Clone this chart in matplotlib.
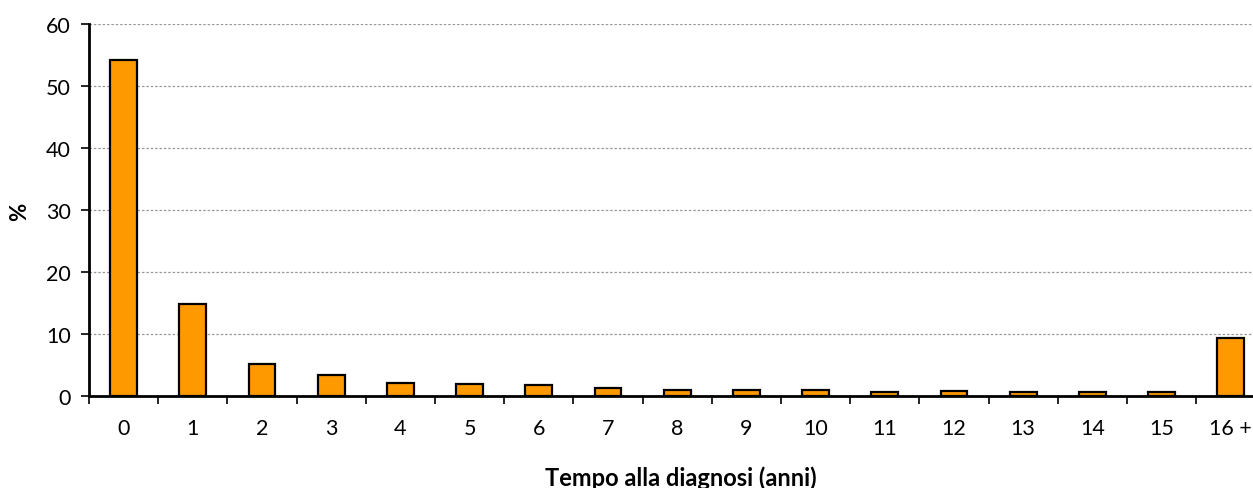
import matplotlib
matplotlib.use("Agg")
import matplotlib.pyplot as plt
import numpy as np

categories = ["0", "1", "2", "3", "4", "5", "6", "7", "8", "9", "10",
              "11", "12", "13", "14", "15", "16 +"]
values = [54.2, 14.9, 5.2, 3.4, 2.1, 1.9, 1.7, 1.3, 1.0, 1.0, 1.0,
          0.7, 0.8, 0.7, 0.6, 0.6, 9.3]
yticks = [0, 10, 20, 30, 40, 50, 60]

plt.rcParams['font.family'] = ['Lato', 'DejaVu Sans']

W, H = 1253, 489
fig = plt.figure(figsize=(W/100, H/100), dpi=100)
ax = fig.add_axes([89/W, 1-397/H, 1-89/W, (397-25.3)/H])

x = np.arange(len(categories))
ax.bar(x, values, width=0.39, color="#FF9900", edgecolor="black",
       linewidth=1.6, zorder=3)

ax.set_ylim(0, 60)
ax.set_xlim(-0.5, -0.5 + (W-89)/69.2)
ax.set_yticks(yticks)
ax.set_yticklabels([str(t) for t in yticks], fontsize=15.5)
ax.set_xticks(x)
ax.set_xticklabels(categories, fontsize=15.5)
ax.set_xticks(np.arange(-0.5, len(categories)-0.5, 1.0), minor=True)
ax.tick_params(axis='x', which='major', length=0, pad=16)
ax.tick_params(axis='x', which='minor', length=6, width=1.2, direction='out')
ax.tick_params(axis='y', which='major', length=6, width=1.2, direction='out', pad=7)

for s in ['top', 'right']:
    ax.spines[s].set_visible(False)
for s in ['left', 'bottom']:
    ax.spines[s].set_linewidth(2)
    ax.spines[s].set_color('black')

ax.yaxis.grid(True, linestyle=(0, (2, 1.5)), color='#999999', linewidth=0.9, zorder=0)
ax.set_axisbelow(True)

fig.text(20/W, 1-212/H, "%", fontsize=16, fontweight='bold', rotation=90,
         ha='center', va='center')
fig.text(681/W, 1-478/H, "Tempo alla diagnosi (anni)", fontsize=17,
         fontweight='bold', ha='center', va='center')

fig.savefig("out.png", dpi=100)
